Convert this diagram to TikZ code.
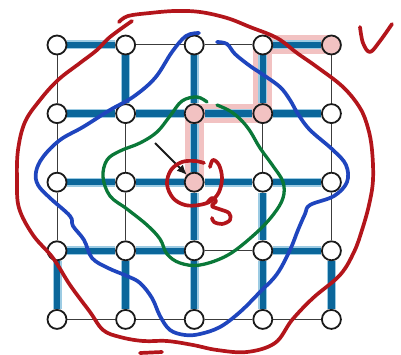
\documentclass[tikz,border=0pt]{standalone}
\usetikzlibrary{arrows.meta, positioning}
\definecolor{gridblue}{HTML}{0B679B}
\definecolor{gridglow}{HTML}{9CCBE3}
\definecolor{hlpink}{HTML}{F2C2C2}
\definecolor{inkred}{HTML}{B3151B}
\definecolor{inkblue}{HTML}{1F45BE}
\definecolor{inkgreen}{HTML}{0A7838}
\definecolor{inkblack}{HTML}{1A1A1A}
\pgfdeclarelayer{back}
\pgfsetlayers{back,main}
\tikzset{
  gnode/.style={circle, draw=inkblack, fill=white, line width=1.8pt,
              minimum size=19pt, inner sep=0pt},
  gnodehl/.style={gnode, fill=hlpink},
  thinedge/.style={draw=inkblack!85, line width=1pt},
  treeedge/.style={draw=gridblue, line width=6.5pt,
              preaction={draw=gridglow, line width=9pt}},
  hlband/.style={draw=hlpink, line width=19pt, line cap=round, line join=round},
  pen/.style={line width=3.7pt, line cap=round, line join=round, smooth, tension=0.6},
  ptr/.style={-{Latex[length=10pt, width=9pt]}, draw=inkblack, line width=1.8pt},
}

\begin{document}
\begin{tikzpicture}[x=1pt, y=-1pt, node distance=68.6pt, on grid]
    \useasboundingbox (0,0) rectangle (401,355);
    % grid, row by row
    \node[gnode] (g00) at (57,45) {};
    \node[gnode, right=of g00] (g10) {};
    \node[gnode, right=of g10] (g20) {};
    \node[gnode, right=of g20] (g30) {};
    \node[gnodehl, right=of g30] (g40) {};
    \node[gnode, below=of g00] (g01) {};
    \node[gnode, right=of g01] (g11) {};
    \node[gnodehl, right=of g11] (g21) {};
    \node[gnodehl, right=of g21] (g31) {};
    \node[gnode, right=of g31] (g41) {};
    \node[gnode, below=of g01] (g02) {};
    \node[gnode, right=of g02] (g12) {};
    \node[gnodehl, right=of g12] (g22) {};
    \node[gnode, right=of g22] (g32) {};
    \node[gnode, right=of g32] (g42) {};
    \node[gnode, below=of g02] (g03) {};
    \node[gnode, right=of g03] (g13) {};
    \node[gnode, right=of g13] (g23) {};
    \node[gnode, right=of g23] (g33) {};
    \node[gnode, right=of g33] (g43) {};
    \node[gnode, below=of g03] (g04) {};
    \node[gnode, right=of g04] (g14) {};
    \node[gnode, right=of g14] (g24) {};
    \node[gnode, right=of g24] (g34) {};
    \node[gnode, right=of g34] (g44) {};
    \coordinate (ptrtail) at (155,143);

    \begin{pgfonlayer}{back}
    \draw[hlband] (g40.center) -- (g30.center) -- (g31.center) -- (g21.center) -- (g22.center);
    \draw[thinedge] (g10) -- (g20) (g20) -- (g30) (g23) -- (g33)
      (g04) -- (g14) (g14) -- (g24) (g24) -- (g34) (g34) -- (g44)
      (g00) -- (g01) (g01) -- (g02) (g02) -- (g03) (g11) -- (g12) (g12) -- (g13)
      (g31) -- (g32) (g40) -- (g41) (g41) -- (g42) (g42) -- (g43);
    \draw[treeedge] (g00) -- (g10) (g30) -- (g40)
      (g01) -- (g11) (g11) -- (g21) (g21) -- (g31) (g31) -- (g41)
      (g02) -- (g12) (g12) -- (g22) (g22) -- (g32) (g32) -- (g42)
      (g03) -- (g13) (g13) -- (g23) (g33) -- (g43)
      (g03) -- (g04) (g10) -- (g11) (g13) -- (g14)
      (g20) -- (g21) (g21) -- (g22) (g22) -- (g23) (g23) -- (g24)
      (g30) -- (g31) (g32) -- (g33) (g33) -- (g34) (g43) -- (g44);
    \end{pgfonlayer}

    \draw[ptr] (ptrtail) -- (g22);
    % hand-drawn loops
    \draw[pen, draw=inkred] plot coordinates {(132,21) (110,37) (97,50) (80,63) (58,80)
      (40,100) (25,122) (18,150) (17,180) (19,208) (33,235) (53,258) (70,285) (90,312)
      (103,330) (120,337) (143,341) (167,341) (193,345) (217,350) (247,352) (275,343)
      (292,320) (313,298) (340,275) (354,252) (362,230) (369,205) (373,180) (372,150)
      (368,128) (360,108) (343,87) (317,67) (297,53) (277,38) (250,27) (227,18) (200,12)
      (175,11) (150,13) (128,16) (119,22)};
    \draw[pen, draw=inkblue] plot coordinates {(217,42) (227,44) (235,54) (250,66) (262,74)
      (280,87) (290,100) (298,114) (310,130) (333,150) (346,165) (347,182) (334,196)
      (310,205) (305,214) (298,230) (290,250) (277,274) (260,292) (240,312) (220,327)
      (200,334) (185,335) (170,330) (160,316) (152,298) (140,283) (127,276) (108,268)
      (92,258) (84,240) (73,226) (70,216) (50,198) (38,185) (36,172) (43,157) (60,140)
      (83,127) (110,110) (133,97) (155,78) (172,52) (186,36) (199,33)};
    \draw[pen, draw=inkgreen, line width=3.3pt] plot coordinates {(217,105) (230,111) (241,120)
      (250,131) (260,148) (273,166) (283,182) (283,198) (273,215) (255,234) (228,255)
      (200,265) (180,263) (167,254) (160,239) (147,225) (127,209) (110,196) (103,177)
      (107,160) (120,151) (140,143) (157,132) (170,116) (182,101) (197,97) (207,102)};
    \draw[pen, draw=inkred] plot coordinates {(210,167) (213,160) (219,165) (222,178)
      (219,192) (211,201) (199,205) (185,205) (173,198) (167,184) (171,170) (182,162)
      (195,161) (204,163)};
    \draw[pen, draw=inkred] plot coordinates {(207,203) (212,198) (216,201) (212,206)
      (219,209) (229,213) (230,220) (222,224) (214,222) (212,218)};
    \draw[pen, draw=inkred] plot coordinates {(360,27) (363,43) (370,52) (380,41) (392,24)};
    \draw[pen, draw=inkred] plot coordinates {(140,353) (162,352)};
  \end{tikzpicture}
\end{document}
